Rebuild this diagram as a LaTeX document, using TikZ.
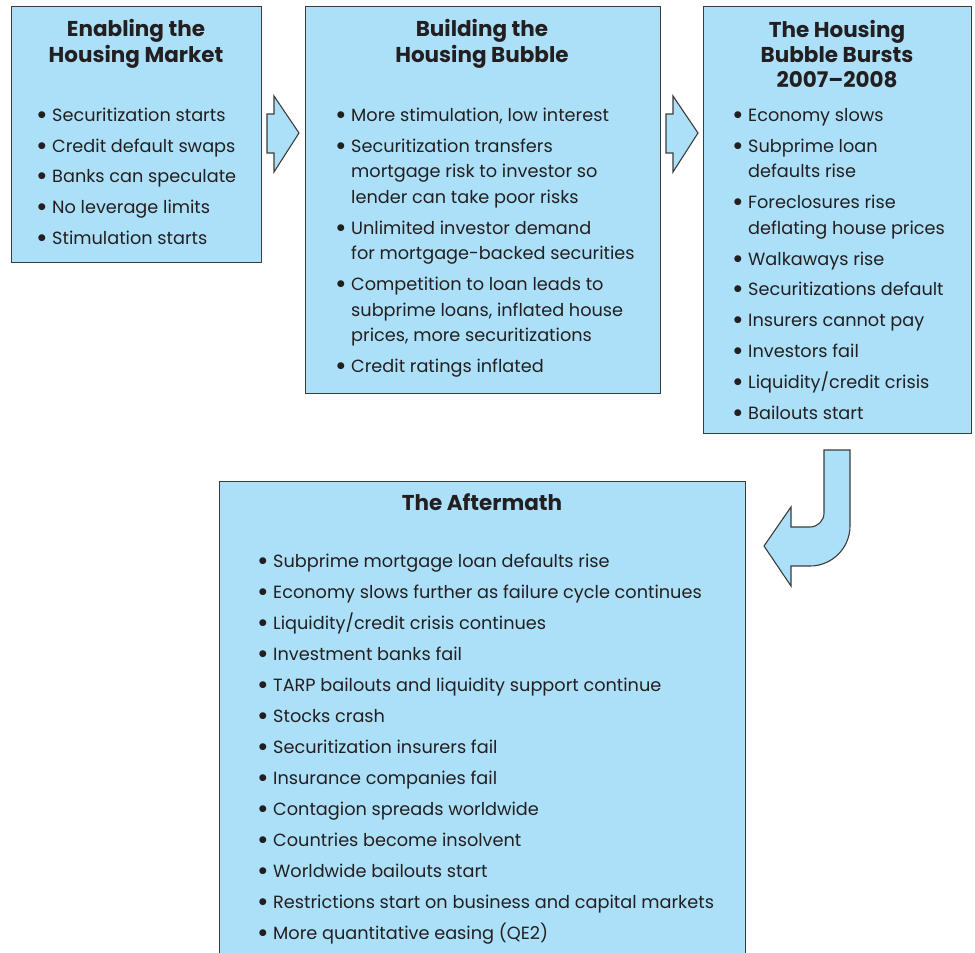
\documentclass[tikz,border=0pt]{standalone}
\usepackage{fontspec}
\setmainfont{Poppins}
\definecolor{boxfill}{RGB}{172,224,249}
\definecolor{boxline}{RGB}{60,60,60}
\definecolor{txtcol}{RGB}{35,31,32}
\tikzset{
  panel/.style={draw=boxline, line width=1.2pt, fill=boxfill},
  blockarrow/.style={draw=boxline, line width=1.1pt, fill=boxfill, line join=miter},
  txt/.style={anchor=base west, inner sep=0pt, text=txtcol, font=\fontsize{17.7}{20}\selectfont},
  bul/.style={anchor=base west, inner sep=0pt, text=txtcol, font=\fontsize{28}{28}\selectfont},
  ttl/.style={anchor=base, inner sep=0pt, text=txtcol, font=\fontsize{21.5}{24}\selectfont\bfseries},
}
\newcommand\itm[4]{\node[bul] (#1b) at (#2-16,#3) {\raisebox{-3pt}{\textbullet}}; \node[txt] (#1) at (#2,#3) {#4};}
\newcommand\cnt[4]{\node[txt] (#1) at (#2,#3) {#4};}
\begin{document}
\begin{tikzpicture}[x=1pt,y=-1pt]
\useasboundingbox (0,0) rectangle (975,953);
% boxes
\node[panel, anchor=north west, minimum width=250pt, minimum height=256pt, inner sep=0pt] (b1) at (11,6) {};
\node[panel, anchor=north west, minimum width=355pt, minimum height=387pt, inner sep=0pt] (b2) at (305,6) {};
\node[panel, anchor=north west, minimum width=268pt, minimum height=427pt, inner sep=0pt] (b3) at (703,6) {};
\node[panel, anchor=north west, minimum width=526pt, minimum height=480pt, inner sep=0pt] (b4) at (219,481) {};
% arrows
\draw[blockarrow] (267,114) -- (274,114) -- (274,96) -- (299,133) -- (274,172) -- (274,153) -- (267,153) -- cycle;
\draw[blockarrow] (666,114) -- (673,114) -- (673,96) -- (698,133) -- (673,172) -- (673,153) -- (666,153) -- cycle;
\draw[blockarrow] (824,450) -- (850,450) -- (850,526)
  .. controls (850,548) and (832,566) .. (810,566) -- (791,566) -- (791,586) -- (764,546) -- (791,507) -- (791,527) -- (810,527)
  .. controls (817.7,527) and (824,520.7) .. (824,513) -- cycle;
% box 1
\node[ttl] (t1a) at (136,36) {Enabling the};
\node[ttl] (t1b) at (136,62) {Housing Market};
\itm{a1}{52}{121}{Securitization starts}
\itm{a2}{52}{152}{Credit default swaps}
\itm{a3}{52}{182}{Banks can speculate}
\itm{a4}{52}{213}{No leverage limits}
\itm{a5}{52}{244}{Stimulation starts}
% box 2
\node[ttl] (t2a) at (482,36) {Building the};
\node[ttl] (t2b) at (482,62) {Housing Bubble};
\itm{c1}{351}{121}{More stimulation, low interest}
\itm{c2}{351}{152}{Securitization transfers}
\cnt{c2b}{351}{177}{mortgage risk to investor so}
\cnt{c2c}{351}{203}{lender can take poor risks}
\itm{c3}{351}{234}{Unlimited investor demand}
\cnt{c3b}{351}{259}{for mortgage-backed securities}
\itm{c4}{351}{290}{Competition to loan leads to}
\cnt{c4b}{351}{316}{subprime loans, inflated house}
\cnt{c4c}{351}{341}{prices, more securitizations}
\itm{c5}{351}{372}{Credit ratings inflated}
% box 3
\node[ttl] (t3a) at (837,37) {The Housing};
\node[ttl] (t3b) at (837,62) {Bubble Bursts};
\node[ttl] (t3c) at (837,87) {2007--2008};
\itm{d1}{748}{121}{Economy slows}
\itm{d2}{748}{152}{Subprime loan}
\cnt{d2b}{748}{177}{defaults rise}
\itm{d3}{748}{208}{Foreclosures rise}
\cnt{d3b}{748}{234}{deflating house prices}
\itm{d4}{748}{265}{Walkaways rise}
\itm{d5}{748}{295}{Securitizations default}
\itm{d6}{748}{326}{Insurers cannot pay}
\itm{d7}{748}{357}{Investors fail}
\itm{d8}{748}{388}{Liquidity/credit crisis}
\itm{d9}{748}{419}{Bailouts start}
% box 4
\node[ttl] (t4) at (482,510) {The Aftermath};
\itm{e1}{273}{567}{Subprime mortgage loan defaults rise}
\itm{e2}{273}{598}{Economy slows further as failure cycle continues}
\itm{e3}{273}{629}{Liquidity/credit crisis continues}
\itm{e4}{273}{660}{Investment banks fail}
\itm{e5}{273}{691}{TARP bailouts and liquidity support continue}
\itm{e6}{273}{722}{Stocks crash}
\itm{e7}{273}{753}{Securitization insurers fail}
\itm{e8}{273}{784}{Insurance companies fail}
\itm{e9}{273}{815}{Contagion spreads worldwide}
\itm{e10}{273}{846}{Countries become insolvent}
\itm{e11}{273}{877}{Worldwide bailouts start}
\itm{e12}{273}{908}{Restrictions start on business and capital markets}
\itm{e13}{273}{939}{More quantitative easing (QE2)}
\end{tikzpicture}
\end{document}
